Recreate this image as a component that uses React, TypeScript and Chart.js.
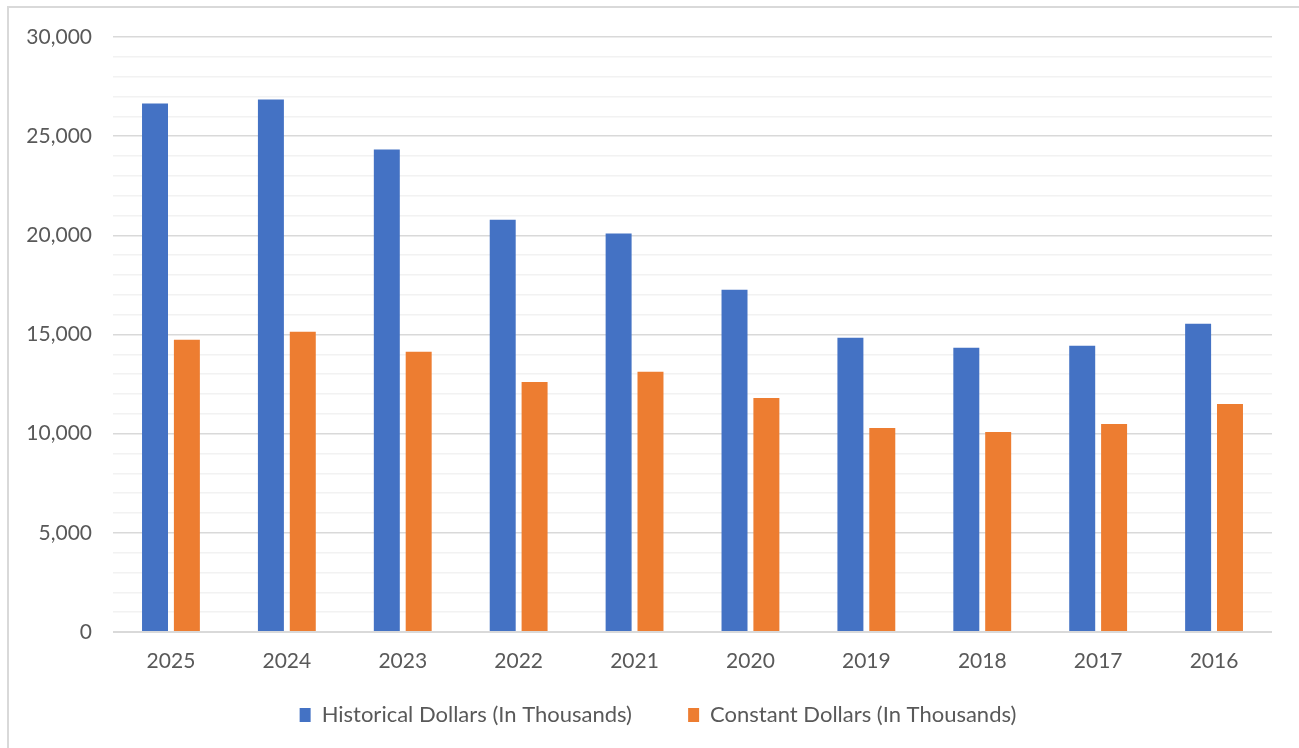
import React, { useEffect, useRef } from "react";
import { Chart, registerables } from "chart.js";

Chart.register(...registerables);

const years = ["2025", "2024", "2023", "2022", "2021", "2020", "2019", "2018", "2017", "2016"];
const historical = [26650, 26850, 24330, 20790, 20090, 17260, 14830, 14330, 14430, 15540];
const constant = [14730, 15140, 14130, 12610, 13120, 11800, 10290, 10090, 10490, 11500];
const seriesNames = ["Historical Dollars (In Thousands)", "Constant Dollars (In Thousands)"];
const seriesColors = ["#4472C4", "#ED7D31"];

const FONT = "Lato, 'Open Sans', sans-serif";

export default function App() {
  const ref = useRef<HTMLCanvasElement | null>(null);

  useEffect(() => {
    document.body.style.margin = "0";
    const canvas = ref.current;
    if (!canvas) return;
    const chart = new Chart(canvas, {
      type: "bar",
      data: {
        labels: years,
        datasets: [
          {
            label: seriesNames[0],
            data: historical,
            backgroundColor: seriesColors[0],
            categoryPercentage: 0.55,
            barPercentage: 0.815,
          },
          {
            label: seriesNames[1],
            data: constant,
            backgroundColor: seriesColors[1],
            categoryPercentage: 0.55,
            barPercentage: 0.815,
          },
        ],
      },
      options: {
        responsive: false,
        animation: false,
        maintainAspectRatio: false,
        layout: { padding: { top: 37, right: 0, bottom: 12, left: 0 } },
        plugins: {
          tooltip: { enabled: false },
          legend: {
            position: "bottom",
            labels: {
              color: "#595959",
              font: { family: FONT, size: 22 },
              boxWidth: 11,
              boxHeight: 14,
              padding: 28,
              generateLabels: (c: any) => {
                const items = Chart.defaults.plugins.legend.labels.generateLabels(c);
                return items.map((it: any, i: number) => ({
                  ...it,
                  text: i === 0 ? it.text + "     " : it.text,
                  lineWidth: 0,
                }));
              },
            },
          },
        },
        scales: {
          x: {
            afterFit: (s: any) => {
              s.height = 44;
            },
            grid: { display: false, drawTicks: false },
            border: { display: false },
            ticks: {
              color: "#595959",
              font: { family: FONT, size: 21 },
              padding: 17,
            },
          },
          y: {
            min: 0,
            max: 30000,
            afterFit: (s: any) => {
              s.width = 113;
            },
            grid: {
              drawTicks: false,
              color: (ctx: any) =>
                ctx.tick && ctx.tick.value % 5000 === 0 ? "#d9d9d9" : "#f2f2f2",
              lineWidth: (ctx: any) => (ctx.tick && ctx.tick.value === 0 ? 2 : 1.5),
            },
            border: { display: false },
            ticks: {
              stepSize: 1000,
              autoSkip: false,
              color: "#595959",
              font: { family: FONT, size: 21 },
              padding: 21,
              callback: (v: any) =>
                Number(v) % 5000 === 0 ? Number(v).toLocaleString("en-US") : "",
            },
          },
          yRightSpace: {
            type: "linear",
            position: "right",
            display: true,
            min: 0,
            max: 30000,
            afterFit: (s: any) => {
              s.width = 44;
            },
            grid: { display: false, drawTicks: false },
            border: { display: false },
            ticks: { display: false },
          },
        },
      },
    });
    return () => chart.destroy();
  }, []);

  return (
    <div style={{ position: "relative", width: 1299, height: 748, overflow: "hidden", background: "#fff" }}>
      <div
        style={{
          position: "absolute",
          left: 7,
          top: 6,
          width: 1320,
          height: 780,
          border: "2px solid #d9d9d9",
          boxSizing: "border-box",
        }}
      />
      <canvas
        ref={ref}
        width={1316}
        height={748}
        style={{ position: "absolute", left: 0, top: 0, width: 1316, height: 748 }}
      />
    </div>
  );
}
